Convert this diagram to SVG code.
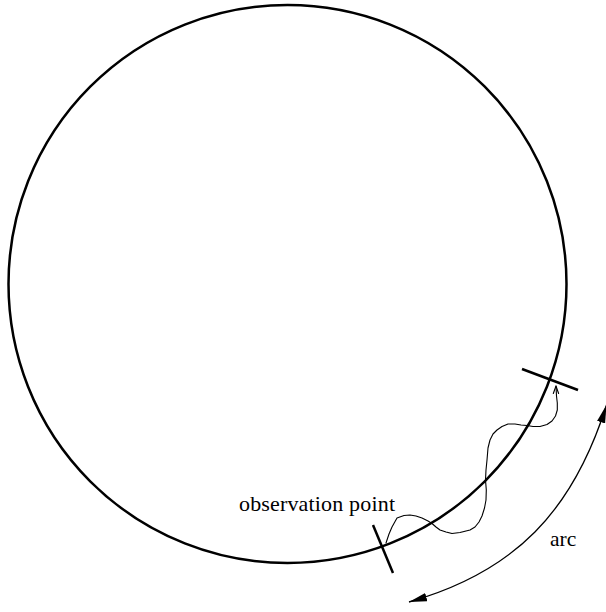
<svg xmlns="http://www.w3.org/2000/svg" width="606" height="612" viewBox="0 0 606 612">
  <style>
    .thick { fill: none; stroke: #000; stroke-width: 2.5; }
    .thin { fill: none; stroke: #000; stroke-width: 1.1; stroke-linejoin: round; stroke-linecap: round; }
    .arcline { fill: none; stroke: #000; stroke-width: 1.3; }
    .lbl { font-family: "Liberation Serif", "Times New Roman", serif; fill: #000; }
  </style>
  <defs>
    <marker id="arrow" markerUnits="userSpaceOnUse" markerWidth="18" markerHeight="9" refX="18" refY="4.5" orient="auto-start-reverse">
      <path d="M18,4.5 L0,0.3 L0,8.7 Z" fill="#000"/>
    </marker>
  </defs>
  <rect width="606" height="612" fill="#fff"/>
  <g id="circle">
    <circle class="thick" cx="287.5" cy="284" r="279"/>
  </g>
  <g id="observation-tick">
    <line class="thick" x1="373" y1="525" x2="393" y2="573"/>
  </g>
  <g id="end-tick">
    <line class="thick" x1="522" y1="369" x2="578" y2="390"/>
  </g>
  <g id="connectors">
    <path id="path-wave" class="thin" d="M386,543 L389,534 L392,527 L397,518 L404,515.5 L410,515 L416,516 L422,518 L428,521 L432,523.5 L436,527 L440,530 L446,532 L452,533.5 L460,532.5 L470,530 L475,527 L479,522 L482,516 L484.5,508 L486,500 L486.3,490 L485.5,480 L486,470 L487,460 L488,448 L490,440 L493,434 L497,430 L502,426.5 L508,424 L515,424 L521,425 L527,425.5 L533,426.5 L540,426.5 L547,424.5 L552,421 L555.5,416 L557.3,410 L557.3,403 L556.5,396 L556,386"/>
    <path class="thin" d="M553.3,393.5 L556,386 L558.6,393.5"/>
    <path id="arc-arrow" class="arcline" d="M409,602 C515,572 573,511 606.5,405" marker-start="url(#arrow)" marker-end="url(#arrow)"/>
  </g>
  <g id="labels">
    <text class="lbl" x="239" y="511" font-size="22" textLength="156" lengthAdjust="spacing">observation point</text>
    <text class="lbl" x="550" y="546" font-size="21.5">arc</text>
  </g>
</svg>
